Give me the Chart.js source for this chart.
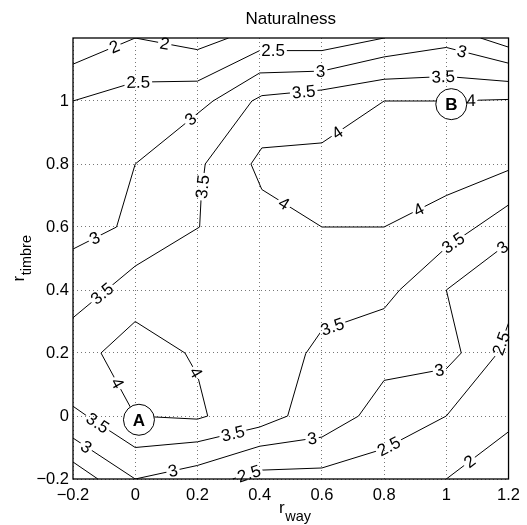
<!DOCTYPE html>
<html><head><meta charset="utf-8">
<script src="https://cdn.jsdelivr.net/npm/chart.js@4"></script>
<style>html,body{margin:0;padding:0;background:#fff}canvas{display:block}</style>
</head><body>
<canvas id="c" width="527" height="525" style="width:527px;height:525px"></canvas>
<script>
// ---- tick labels ----
const xTicks = [-0.2, 0, 0.2, 0.4, 0.6, 0.8, 1, 1.2];
const yTicks = [-0.2, 0, 0.2, 0.4, 0.6, 0.8, 1];

// ---- contour lines (level, polyline in data coords) ----
const c2Top   = [[-0.2,1.117],[0,1.2],[0.2,1.163],[0.3,1.2]];
const c2BR    = [[1.0,-0.2],[1.2,-0.05]];
const c25Top  = [[-0.2,1.0],[0,1.06],[0.2,1.063],[0.4,1.16],[0.6,1.16],[0.8,1.2]];
const c25TR   = [[1.11,1.2],[1.2,1.171]];
const c25BL   = [[-0.2,-0.146],[-0.12,-0.2]];
const c25Bot  = [[0.313,-0.2],[0.4,-0.172],[0.6,-0.165],[0.8,-0.104],[1.0,0.0],[1.165,0.2],[1.2,0.295]];
const c3Top   = [[-0.2,0.53],[-0.06,0.6],[0,0.8],[0.25,1.0],[0.4,1.089],[0.6,1.095],[0.8,1.14],[1.0,1.17],[1.2,1.12]];
const c3Bot   = [[-0.2,-0.07],[0,-0.2],[0.2,-0.157],[0.4,-0.096],[0.6,-0.067],[0.718,0],[0.8,0.113],[1.0,0.15],[1.048,0.2],[1.0,0.4],[1.2,0.55]];
const c35Top  = [[-0.2,0.312],[0,0.476],[0.207,0.6],[0.212,0.695],[0.225,0.8],[0.375,1.0],[0.407,1.017],[0.6,1.035],[0.8,1.069],[1.0,1.078],[1.2,1.062]];
const c35Bot  = [[-0.2,0.031],[-0.155,0],[0,-0.1],[0.2,-0.082],[0.4,-0.035],[0.49,0.0],[0.548,0.198],[0.6,0.272],[0.8,0.341],[0.85,0.4],[1.0,0.535],[1.2,0.67]];
const c4Top   = [[1.2,1.005],[1.0,1.0],[0.8,1.0],[0.6,0.867],[0.407,0.851],[0.372,0.8],[0.407,0.719],[0.6,0.6],[0.8,0.6],[1.0,0.7],[1.2,0.78]];
const c4A     = [[0,0],[-0.11,0.2],[0,0.3],[0.16,0.2],[0.2,0.13],[0.233,0.0],[0.2,-0.01],[0,0]];

// ---- inline contour label anchors (data coords) ----
const l2Top  = [[-0.065,1.167],[0.095,1.183]];
const l2BR   = [[1.075,-0.145]];
const l25Top = [[0.01,1.052],[0.443,1.156]];
const l25Bot = [[0.366,-0.183],[0.819,-0.103],[1.176,0.23]];
const l3Top  = [[-0.129,0.563],[0.191,0.926],[0.596,1.092],[1.05,1.155]];
const l3Bot  = [[-0.161,-0.103],[0.121,-0.172],[0.569,-0.074],[0.979,0.14],[1.181,0.535]];
const l35Top = [[-0.107,0.389],[0.223,0.727],[0.542,1.025],[0.99,1.078]];
const l35Bot = [[-0.129,-0.035],[0.313,-0.051],[0.633,0.285],[1.022,0.55]];
const l4Top  = [[0.649,0.9],[1.08,1.002],[0.478,0.674],[0.915,0.648]];
const l4A    = [[-0.059,0.103],[0.191,0.135]];

// ---- circled markers ----
const markerNames = ['A','B'];
const markerPos   = [[0.012,-0.012],[1.016,0.99]];

const contours = [
  {level:'2',   pts:c2Top,  labels:l2Top},
  {level:'2',   pts:c2BR,   labels:l2BR},
  {level:'2.5', pts:c25Top, labels:l25Top},
  {level:'2.5', pts:c25TR,  labels:[]},
  {level:'2.5', pts:c25BL,  labels:[]},
  {level:'2.5', pts:c25Bot, labels:l25Bot},
  {level:'3',   pts:c3Top,  labels:l3Top},
  {level:'3',   pts:c3Bot,  labels:l3Bot},
  {level:'3.5', pts:c35Top, labels:l35Top},
  {level:'3.5', pts:c35Bot, labels:l35Bot},
  {level:'4',   pts:c4Top,  labels:l4Top},
  {level:'4',   pts:c4A,    labels:l4A}
];

const FONT = '"Liberation Sans", Arial, Helvetica, sans-serif';
const fmt = v => { const r = Math.round(v*10)/10; return (r < 0 ? '\u2212' : '') + String(Math.abs(r)); };

function px(chart, p){ return [chart.scales.x.getPixelForValue(p[0]), chart.scales.y.getPixelForValue(p[1])]; }

function placeLabels(chart){
  const ctx = chart.ctx;
  ctx.save(); ctx.font = '17px ' + FONT;
  const out = [];
  contours.forEach(c => {
    const pts = c.pts.map(p => px(chart, p));
    c.labels.forEach(l => {
      const q = px(chart, l);
      let best = null;
      for (let i = 0; i < pts.length - 1; i++) {
        const a = pts[i], b = pts[i+1];
        const dx = b[0]-a[0], dy = b[1]-a[1];
        const L2 = dx*dx + dy*dy; if (!L2) continue;
        let t = ((q[0]-a[0])*dx + (q[1]-a[1])*dy) / L2;
        t = Math.max(0, Math.min(1, t));
        const x = a[0]+t*dx, y = a[1]+t*dy;
        const d = (x-q[0])**2 + (y-q[1])**2;
        if (!best || d < best.d) {
          let ang = Math.atan2(dy, dx);
          if (ang > Math.PI/2) ang -= Math.PI;
          if (ang <= -Math.PI/2) ang += Math.PI;
          best = {d, x, y, ang};
        }
      }
      out.push({text:c.level, x:best.x, y:best.y, ang:best.ang, w:ctx.measureText(c.level).width});
    });
  });
  ctx.restore();
  return out;
}

const contourPlugin = {
  id: 'contourDecor',
  beforeDatasetsDraw(chart){
    const a = chart.chartArea, ctx = chart.ctx;
    chart.$labels = placeLabels(chart);
    ctx.save();
    ctx.beginPath();
    ctx.rect(a.left, a.top, a.right - a.left, a.bottom - a.top);
    chart.$labels.forEach(L => {
      const hw = L.w/2 + 2, hh = 7;
      const c = Math.cos(L.ang), s = Math.sin(L.ang);
      const cs = [[-hw,-hh],[hw,-hh],[hw,hh],[-hw,hh]].map(([u,v]) => [L.x + u*c - v*s, L.y + u*s + v*c]);
      ctx.moveTo(cs[0][0], cs[0][1]);
      for (let i = 1; i < 4; i++) ctx.lineTo(cs[i][0], cs[i][1]);
      ctx.closePath();
    });
    ctx.clip('evenodd');
  },
  afterDatasetsDraw(chart){
    const a = chart.chartArea, ctx = chart.ctx;
    ctx.restore();
    // contour labels
    ctx.save();
    ctx.fillStyle = '#000';
    ctx.font = '17px ' + FONT;
    ctx.textAlign = 'center';
    ctx.textBaseline = 'middle';
    chart.$labels.forEach(L => {
      ctx.save();
      ctx.translate(L.x, L.y);
      ctx.rotate(L.ang);
      ctx.fillText(L.text, 0, 1);
      ctx.restore();
    });
    ctx.restore();
    // axes box
    ctx.save();
    ctx.strokeStyle = '#000';
    ctx.lineWidth = 1.3;
    ctx.strokeRect(a.left, a.top, a.right - a.left, a.bottom - a.top);
    ctx.restore();
    // circled markers
    ctx.save();
    markerNames.forEach((n, i) => {
      const p = px(chart, markerPos[i]);
      ctx.beginPath();
      ctx.arc(p[0], p[1], 15.5, 0, Math.PI*2);
      ctx.fillStyle = '#fff'; ctx.fill();
      ctx.lineWidth = 1; ctx.strokeStyle = '#000'; ctx.stroke();
      ctx.fillStyle = '#000';
      ctx.font = 'bold 17px ' + FONT;
      ctx.textAlign = 'center'; ctx.textBaseline = 'alphabetic';
      ctx.fillText(n, p[0], p[1] + 6);
    });
    ctx.restore();
  },
  afterDraw(chart){
    const a = chart.chartArea, ctx = chart.ctx;
    const cx = (a.left + a.right)/2, cy = (a.top + a.bottom)/2;
    ctx.save();
    ctx.fillStyle = '#000';
    ctx.textBaseline = 'alphabetic';
    // title
    ctx.font = '17px ' + FONT;
    ctx.textAlign = 'center';
    ctx.fillText('Naturalness', cx, 24);
    // x label r_way
    ctx.textAlign = 'left';
    ctx.font = '17px ' + FONT; const wr = ctx.measureText('r').width;
    ctx.font = '14.5px ' + FONT; const ws = ctx.measureText('way').width;
    const x0 = cx + 4 - (wr + ws)/2;
    ctx.font = '17px ' + FONT; ctx.fillText('r', x0, 513);
    ctx.font = '14.5px ' + FONT; ctx.fillText('way', x0 + wr + 0.5, 521);
    // y label r_timbre
    ctx.font = '14.5px ' + FONT; const wt = ctx.measureText('timbre').width;
    ctx.translate(24, cy);
    ctx.rotate(-Math.PI/2);
    const s0 = -(wr + wt)/2;
    ctx.font = '17px ' + FONT; ctx.fillText('r', s0, 0);
    ctx.font = '14.5px ' + FONT; ctx.fillText('timbre', s0 + wr + 0.5, 7);
    ctx.restore();
  }
};

const datasets = contours.map(c => ({
  data: c.pts.map(p => ({x:p[0], y:p[1]})),
  showLine: true, borderColor: '#000', borderWidth: 1,
  pointRadius: 0, pointHoverRadius: 0, fill: false, tension: 0
}));

new Chart(document.getElementById('c'), {
  type: 'scatter',
  data: { datasets },
  options: {
    responsive: false, animation: false, devicePixelRatio: 1,
    events: [],
    layout: { padding: { top: 38, right: 16, left: 0, bottom: 0 } },
    plugins: { legend: {display:false}, tooltip: {enabled:false}, title: {display:false} },
    scales: {
      x: {
        type: 'linear', min: -0.2, max: 1.2,
        afterBuildTicks: s => { s.ticks = xTicks.map(v => ({value:v})); },
        afterFit: s => { s.height = 46; },
        ticks: { callback: v => fmt(v), color:'#000', font:{family:FONT, size:16.5}, padding: 7, maxRotation:0, autoSkip:false },
        grid: { color:'#777', lineWidth:1, drawTicks:false },
        border: { display:false, dash:[1,3] }
      },
      y: {
        type: 'linear', min: -0.2, max: 1.2,
        afterBuildTicks: s => { s.ticks = yTicks.map(v => ({value:v})); },
        afterFit: s => { s.width = 73; },
        ticks: { callback: v => fmt(v), color:'#000', font:{family:FONT, size:16.5}, padding: 4, autoSkip:false },
        grid: { color:'#777', lineWidth:1, drawTicks:false },
        border: { display:false, dash:[1,3] }
      }
    }
  },
  plugins: [contourPlugin]
});
</script>
</body></html>
